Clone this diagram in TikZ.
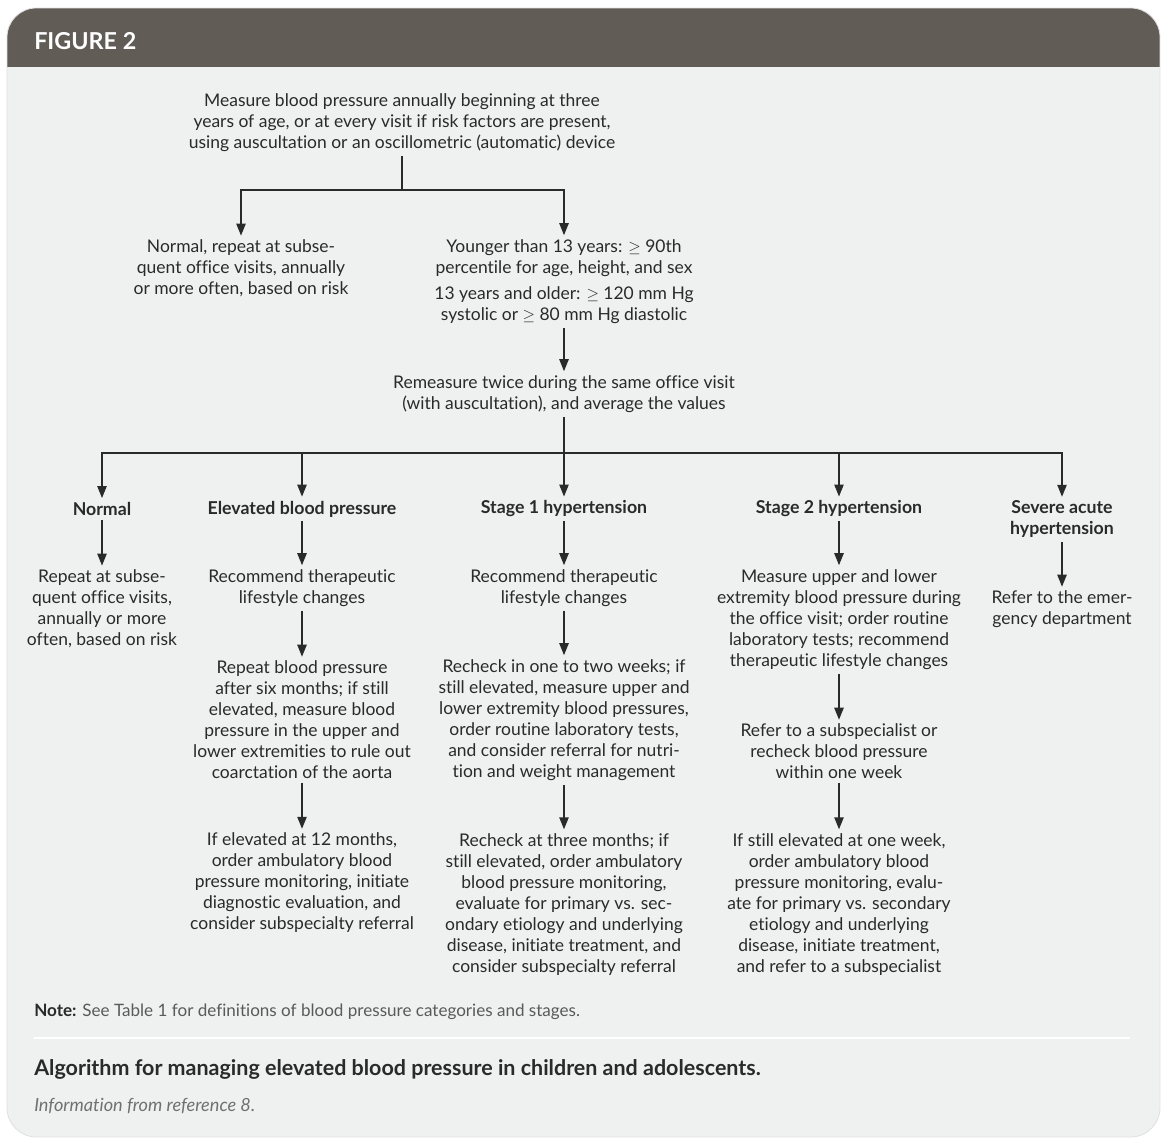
\documentclass[tikz,border=0pt]{standalone}
\usepackage{fontspec}
\setmainfont{Lato}[Ligatures=CommonOff]
\usetikzlibrary{arrows.meta}
\definecolor{hdr}{HTML}{625C57}
\definecolor{bodybg}{HTML}{EFF0F0}
\definecolor{txt}{HTML}{2A2A2A}
\definecolor{notegray}{HTML}{5A5A5A}
\definecolor{infogray}{HTML}{707070}
\begin{document}
\begin{tikzpicture}[x=0.75pt,y=-0.75pt,
  tx/.style={font=\fontsize{13.1}{15.75}\selectfont, text=txt, align=center, inner xsep=0pt, inner ysep=3pt, yshift=-1.5pt},
  hd/.style={tx, font=\fontsize{13.3}{15.75}\selectfont\bfseries},
  ln/.style={line width=1.1pt, draw=txt},
  arr/.style={ln, -{Triangle[width=7pt,length=9pt]}}
]
\useasboundingbox (0,0) rectangle (1170,1144);
\fill[white] (0,0) rectangle (1170,1144);
% panel
\begin{scope}
\clip[rounded corners=22pt] (7,8) rectangle (1160,1137);
\fill[bodybg] (7,8) rectangle (1160,1137);
\fill[hdr] (7,8) rectangle (1160,67);
\end{scope}
\draw[black!12, line width=0.6pt, rounded corners=22pt] (7,8) rectangle (1160,1137);
\node[anchor=west, text=white, font=\fontsize{17.5}{20}\selectfont\bfseries, inner sep=0pt] (fig) at (34,41) {FIGURE 2};

% top
\node[tx] (top) at (402,121) {Measure blood pressure annually beginning at three\\years of age, or at every visit if risk factors are present,\\using auscultation or an oscillometric (automatic) device};
\node[tx] (n0) at (241,266.5) {Normal, repeat at subse-\\quent office visits, annually\\or more often, based on risk};
\node[tx] (y1) at (564,256) {Younger than 13 years: $\geq$ 90th\\percentile for age, height, and sex};
\node[tx] (y2) at (564,303.5) {13 years and older: $\geq$ 120 mm Hg\\systolic or $\geq$ 80 mm Hg diastolic};
\node[tx] (rm) at (564,392) {Remeasure twice during the same office visit\\(with auscultation), and average the values};

\coordinate (j1) at (402,190);
\coordinate (j2) at (564,453);
\draw[ln] (top.south) -- (j1);
\draw[arr] (j1) -| (n0.north);
\draw[arr] (j1) -| (y1.north);
\draw[arr] (y2.south) -- (rm.north);
\draw[ln] (rm.south) -- (j2);

% headers
\node[hd] (h1) at (102,507) {Normal};
\node[hd] (h2) at (302,507) {Elevated blood pressure};
\node[hd] (h3) at (564,507) {Stage 1 hypertension};
\node[hd] (h4) at (839,507) {Stage 2 hypertension};
\node[hd] (h5) at (1062,517.5) {Severe acute\\hypertension};
\foreach \h in {h1,h2,h3,h4,h5} \draw[arr] (j2) -| (\h.north);

% column 1
\node[tx] (c1) at (102,607) {Repeat at subse-\\quent office visits,\\annually or more\\often, based on risk};
\draw[arr] (h1.south) -- (c1.north);

% column 2
\node[tx] (a2) at (302,586) {Recommend therapeutic\\lifestyle changes};
\node[tx] (b2) at (302,718) {Repeat blood pressure\\after six months; if still\\elevated, measure blood\\pressure in the upper and\\lower extremities to rule out\\coarctation of the aorta};
\node[tx] (d2) at (302,881) {If elevated at 12 months,\\order ambulatory blood\\pressure monitoring, initiate\\diagnostic evaluation, and\\consider subspecialty referral};
\draw[arr] (h2.south) -- (a2.north);
\draw[arr] (a2.south) -- (b2.north);
\draw[arr] (b2.south) -- (d2.north);

% column 3
\node[tx] (a3) at (564,586) {Recommend therapeutic\\lifestyle changes};
\node[tx] (b3) at (564,718) {Recheck in one to two weeks; if\\still elevated, measure upper and\\lower extremity blood pressures,\\order routine laboratory tests,\\and consider referral for nutri-\\tion and weight management};
\node[tx] (d3) at (564,902.5) {Recheck at three months; if\\still elevated, order ambulatory\\blood pressure monitoring,\\evaluate for primary vs. sec-\\ondary etiology and underlying\\disease, initiate treatment, and\\consider subspecialty referral};
\draw[arr] (h3.south) -- (a3.north);
\draw[arr] (a3.south) -- (b3.north);
\draw[arr] (b3.south) -- (d3.north);

% column 4
\node[tx] (a4) at (839,617.5) {Measure upper and lower\\extremity blood pressure during\\the office visit; order routine\\laboratory tests; recommend\\therapeutic lifestyle changes};
\node[tx] (b4) at (839,749.5) {Refer to a subspecialist or\\recheck blood pressure\\within one week};
\node[tx] (d4) at (839,902.5) {If still elevated at one week,\\order ambulatory blood\\pressure monitoring, evalu-\\ate for primary vs. secondary\\etiology and underlying\\disease, initiate treatment,\\and refer to a subspecialist};
\draw[arr] (h4.south) -- (a4.north);
\draw[arr] (a4.south) -- (b4.north);
\draw[arr] (b4.south) -- (d4.north);

% column 5
\node[tx] (a5) at (1062,607.5) {Refer to the emer-\\gency department};
\draw[arr] (h5.south) -- (a5.north);

% footer
\node[anchor=west, inner sep=0pt, font=\fontsize{12.8}{15}\selectfont, text=notegray] (note) at (34,1012) {\textcolor{txt}{\bfseries Note:} See Table 1 for definitions of blood pressure categories and stages.};
\draw[white, line width=1.5pt] (34,1038) -- (1130,1038);
\node[anchor=west, inner sep=0pt, font=\fontsize{16.1}{19}\selectfont\bfseries, text=txt] (cap) at (34,1069) {Algorithm for managing elevated blood pressure in children and adolescents.};
\node[anchor=west, inner sep=0pt, font=\fontsize{13.6}{16}\selectfont\itshape, text=infogray] (info) at (34,1106) {Information from reference 8.};
\end{tikzpicture}
\end{document}
